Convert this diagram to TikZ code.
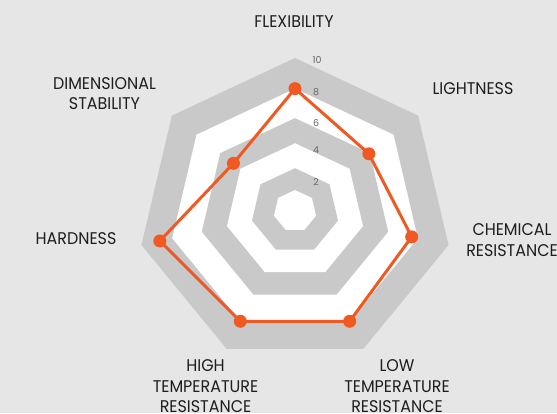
\documentclass[tikz,border=0pt]{standalone}
\usepackage{fontspec}
\setmainfont{Poppins}
\newfontfamily\labelfont[FakeStretch=0.94]{Poppins}
\definecolor{bg}{HTML}{E6E6E6}
\definecolor{band}{HTML}{C9C9C9}
\definecolor{ring}{HTML}{FFFFFF}
\definecolor{accent}{HTML}{F05A22}
\definecolor{ink}{HTML}{1E1E1E}
\definecolor{tick}{HTML}{666666}
\def\cx{295}\def\cy{211}\def\rx{157.5}\def\ry{153}
\newcommand{\heptfill}[2]{%
  \fill[#2] ({\cx+\rx*#1*cos(90)},{\cy-\ry*#1*sin(90)})
    \foreach \k in {1,...,6}{ -- ({\cx+\rx*#1*cos(90-\k*360/7)},{\cy-\ry*#1*sin(90-\k*360/7)}) } -- cycle;}
\tikzset{
  axislabel/.style={font=\labelfont\fontsize{17}{20.5}\selectfont, text=ink, align=center, inner sep=0pt},
  ticklabel/.style={font=\fontsize{9.5}{11}\selectfont, text=tick, inner sep=0pt},
  marker/.style={circle, fill=accent, minimum size=13bp, inner sep=0pt},
  series/.style={draw=accent, line width=3bp, line join=round}
}
\begin{document}
\begin{tikzpicture}[x=1bp,y=-1bp]
\fill[bg] (0,0) rectangle (557,413);
\useasboundingbox (0,0) rectangle (557,413);
\heptfill{1}{band}
\heptfill{0.8}{ring}
\heptfill{0.607}{band}
\heptfill{0.443}{ring}
\heptfill{0.28}{band}
\heptfill{0.137}{ring}
% tick labels
\node[ticklabel] (t10) at (317,60) {10};
\node[ticklabel] (t8) at (316,92.5) {8};
\node[ticklabel] (t6) at (316,123.5) {6};
\node[ticklabel] (t4) at (316,150.5) {4};
\node[ticklabel] (t2) at (316,182) {2};
% data points
\foreach \v [count=\i from 0] in {8,6,7.6,8,8,8.8,5} {
  \coordinate (p\i) at ({\cx+\rx*\v/10*cos(90-\i*360/7)},{\cy-\ry*\v/10*sin(90-\i*360/7)});
}
\draw[series] (p0) -- (p1) -- (p2) -- (p3) -- (p4) -- (p5) -- (p6) -- cycle;
\foreach \i in {0,...,6} { \node[marker] (m\i) at (p\i) {}; }
% axis labels
\node[axislabel] (flex) at (294,22) {FLEXIBILITY};
\node[axislabel] (light) at (473,89) {LIGHTNESS};
\node[axislabel] (chem) at (512,240) {CHEMICAL\\RESISTANCE};
\node[axislabel] (low) at (397,386.5) {LOW\\TEMPERATURE\\RESISTANCE};
\node[axislabel] (high) at (205.5,386.5) {HIGH\\TEMPERATURE\\RESISTANCE};
\node[axislabel] (hard) at (76,238.5) {HARDNESS};
\node[axislabel] (dim) at (104.5,93.5) {DIMENSIONAL\\STABILITY};
\end{tikzpicture}
\end{document}
